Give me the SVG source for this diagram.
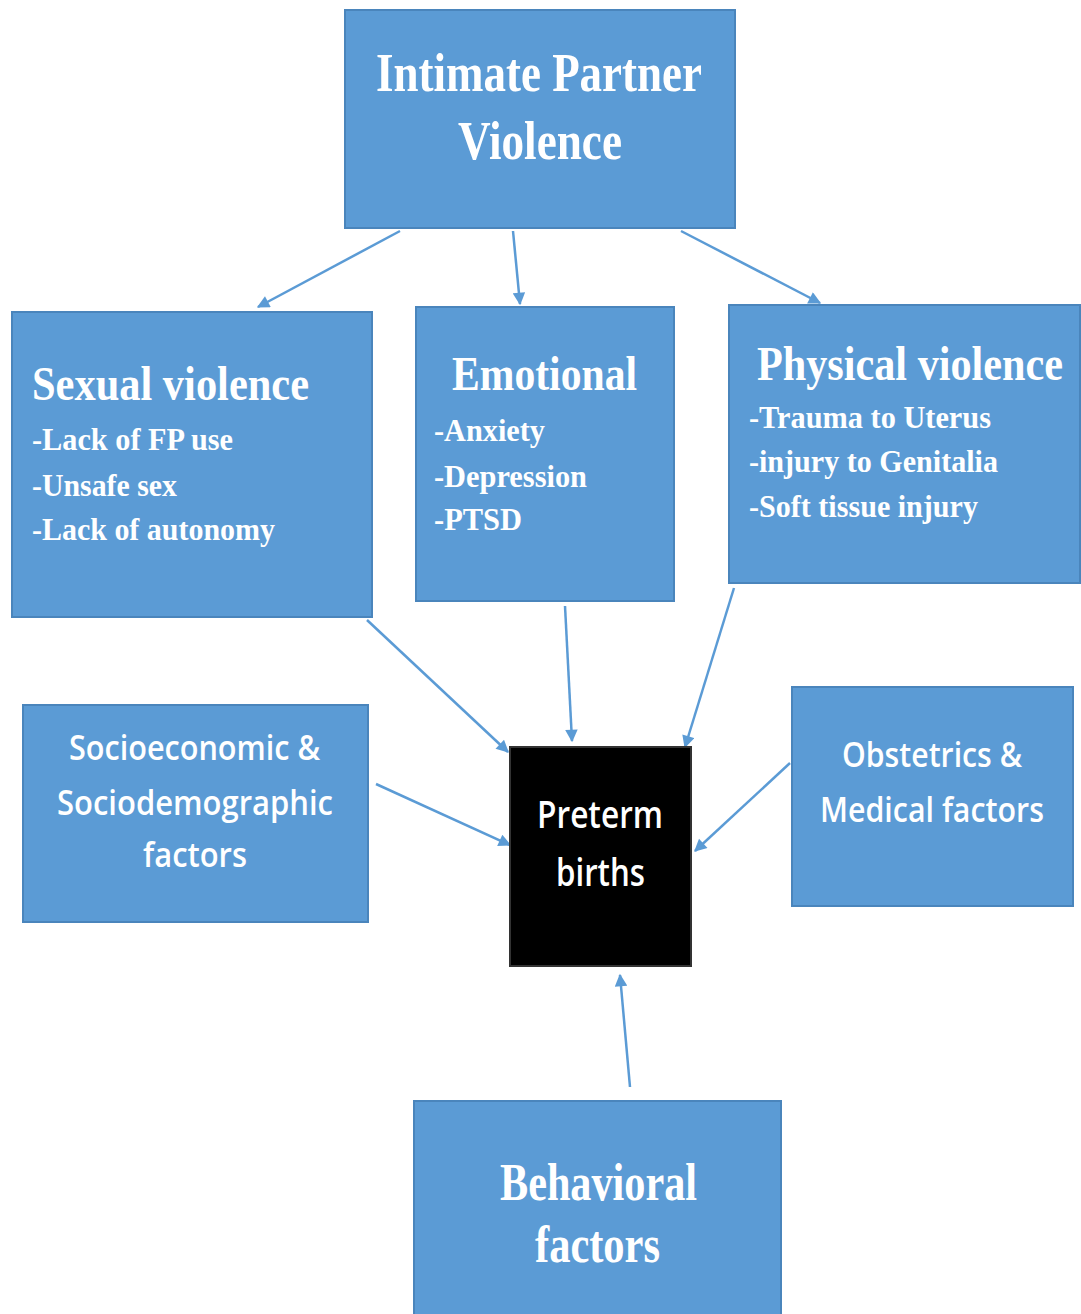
<svg xmlns="http://www.w3.org/2000/svg" width="1081" height="1314" viewBox="0 0 1081 1314">
<style>
.box{fill:#5B9BD5;stroke:#4A85BC;stroke-width:2}
.dark{fill:#000;stroke:#333;stroke-width:2}
.serif{font-family:"Liberation Serif","Times New Roman",serif;font-weight:bold;fill:#fff}
.sans{font-family:"Open Sans","Liberation Sans",sans-serif;font-weight:600;fill:#fff}
.conn{stroke:#5B9BD5;stroke-width:2.5;fill:none;marker-end:url(#ah)}
</style>
<defs>
<marker id="ah" viewBox="0 0 10 10" refX="9" refY="5" markerWidth="6" markerHeight="5" markerUnits="strokeWidth" orient="auto">
<path d="M0,0 L10,5 L0,10 z" fill="#5B9BD5"/>
</marker>
</defs>
<rect width="1081" height="1314" fill="#fff"/>
<g id="connectors">
<line class="conn" x1="400" y1="231" x2="258" y2="307"/>
<line class="conn" x1="513" y1="231" x2="520" y2="304"/>
<line class="conn" x1="681" y1="231" x2="820" y2="303"/>
<line class="conn" x1="367" y1="620" x2="508" y2="752"/>
<line class="conn" x1="565" y1="606" x2="572" y2="741"/>
<line class="conn" x1="734" y1="588" x2="685" y2="747"/>
<line class="conn" x1="376" y1="784" x2="510" y2="845"/>
<line class="conn" x1="790" y1="763" x2="695" y2="851"/>
<line class="conn" x1="630" y1="1087" x2="620" y2="975"/>
</g>
<g id="ipv">
<rect class="box" x="345" y="10" width="390" height="218"/>
<text class="serif" font-size="55" x="376" y="91" textLength="326" lengthAdjust="spacingAndGlyphs">Intimate Partner</text>
<text class="serif" font-size="55" x="458" y="159" textLength="164" lengthAdjust="spacingAndGlyphs">Violence</text>
</g>
<g id="sexual">
<rect class="box" x="12" y="312" width="360" height="305"/>
<text class="serif" font-size="49" x="32" y="400" textLength="277" lengthAdjust="spacingAndGlyphs">Sexual violence</text>
<text class="serif" font-size="31" x="32" y="450" textLength="201" lengthAdjust="spacingAndGlyphs">-Lack of FP use</text>
<text class="serif" font-size="31" x="32" y="496" textLength="145" lengthAdjust="spacingAndGlyphs">-Unsafe sex</text>
<text class="serif" font-size="31" x="32" y="540" textLength="243" lengthAdjust="spacingAndGlyphs">-Lack of autonomy</text>
</g>
<g id="emotional">
<rect class="box" x="416" y="307" width="258" height="294"/>
<text class="serif" font-size="49" x="452" y="390" textLength="185" lengthAdjust="spacingAndGlyphs">Emotional</text>
<text class="serif" font-size="31" x="434" y="441" textLength="111" lengthAdjust="spacingAndGlyphs">-Anxiety</text>
<text class="serif" font-size="31" x="434" y="487" textLength="153" lengthAdjust="spacingAndGlyphs">-Depression</text>
<text class="serif" font-size="31" x="434" y="530" textLength="88" lengthAdjust="spacingAndGlyphs">-PTSD</text>
</g>
<g id="physical">
<rect class="box" x="729" y="305" width="351" height="278"/>
<text class="serif" font-size="39" x="0" y="0" transform="translate(757,380) scale(1,1.25)" textLength="306" lengthAdjust="spacingAndGlyphs">Physical violence</text>
<text class="serif" font-size="31" x="749" y="428" textLength="242" lengthAdjust="spacingAndGlyphs">-Trauma to Uterus</text>
<text class="serif" font-size="31" x="749" y="472" textLength="249" lengthAdjust="spacingAndGlyphs">-injury to Genitalia</text>
<text class="serif" font-size="31" x="749" y="517" textLength="229" lengthAdjust="spacingAndGlyphs">-Soft tissue injury</text>
</g>
<g id="socio">
<rect class="box" x="23" y="705" width="345" height="217"/>
<text class="sans" font-size="34" x="69" y="760" textLength="251" lengthAdjust="spacingAndGlyphs">Socioeconomic &amp;</text>
<text class="sans" font-size="34" x="57" y="815" textLength="276" lengthAdjust="spacingAndGlyphs">Sociodemographic</text>
<text class="sans" font-size="34" x="143" y="867" textLength="104" lengthAdjust="spacingAndGlyphs">factors</text>
</g>
<g id="preterm">
<rect class="dark" x="510" y="747" width="181" height="219"/>
<text class="sans" font-size="37" x="537" y="828" textLength="126" lengthAdjust="spacingAndGlyphs">Preterm</text>
<text class="sans" font-size="37" x="556" y="886" textLength="89" lengthAdjust="spacingAndGlyphs">births</text>
</g>
<g id="obstetrics">
<rect class="box" x="792" y="687" width="281" height="219"/>
<text class="sans" font-size="34" x="842" y="767" textLength="180" lengthAdjust="spacingAndGlyphs">Obstetrics &amp;</text>
<text class="sans" font-size="34" x="820" y="822" textLength="224" lengthAdjust="spacingAndGlyphs">Medical factors</text>
</g>
<g id="behavioral">
<rect class="box" x="414" y="1101" width="367" height="220"/>
<text class="serif" font-size="53" x="500" y="1200" textLength="197" lengthAdjust="spacingAndGlyphs">Behavioral</text>
<text class="serif" font-size="53" x="535" y="1262" textLength="125" lengthAdjust="spacingAndGlyphs">factors</text>
</g>
</svg>
